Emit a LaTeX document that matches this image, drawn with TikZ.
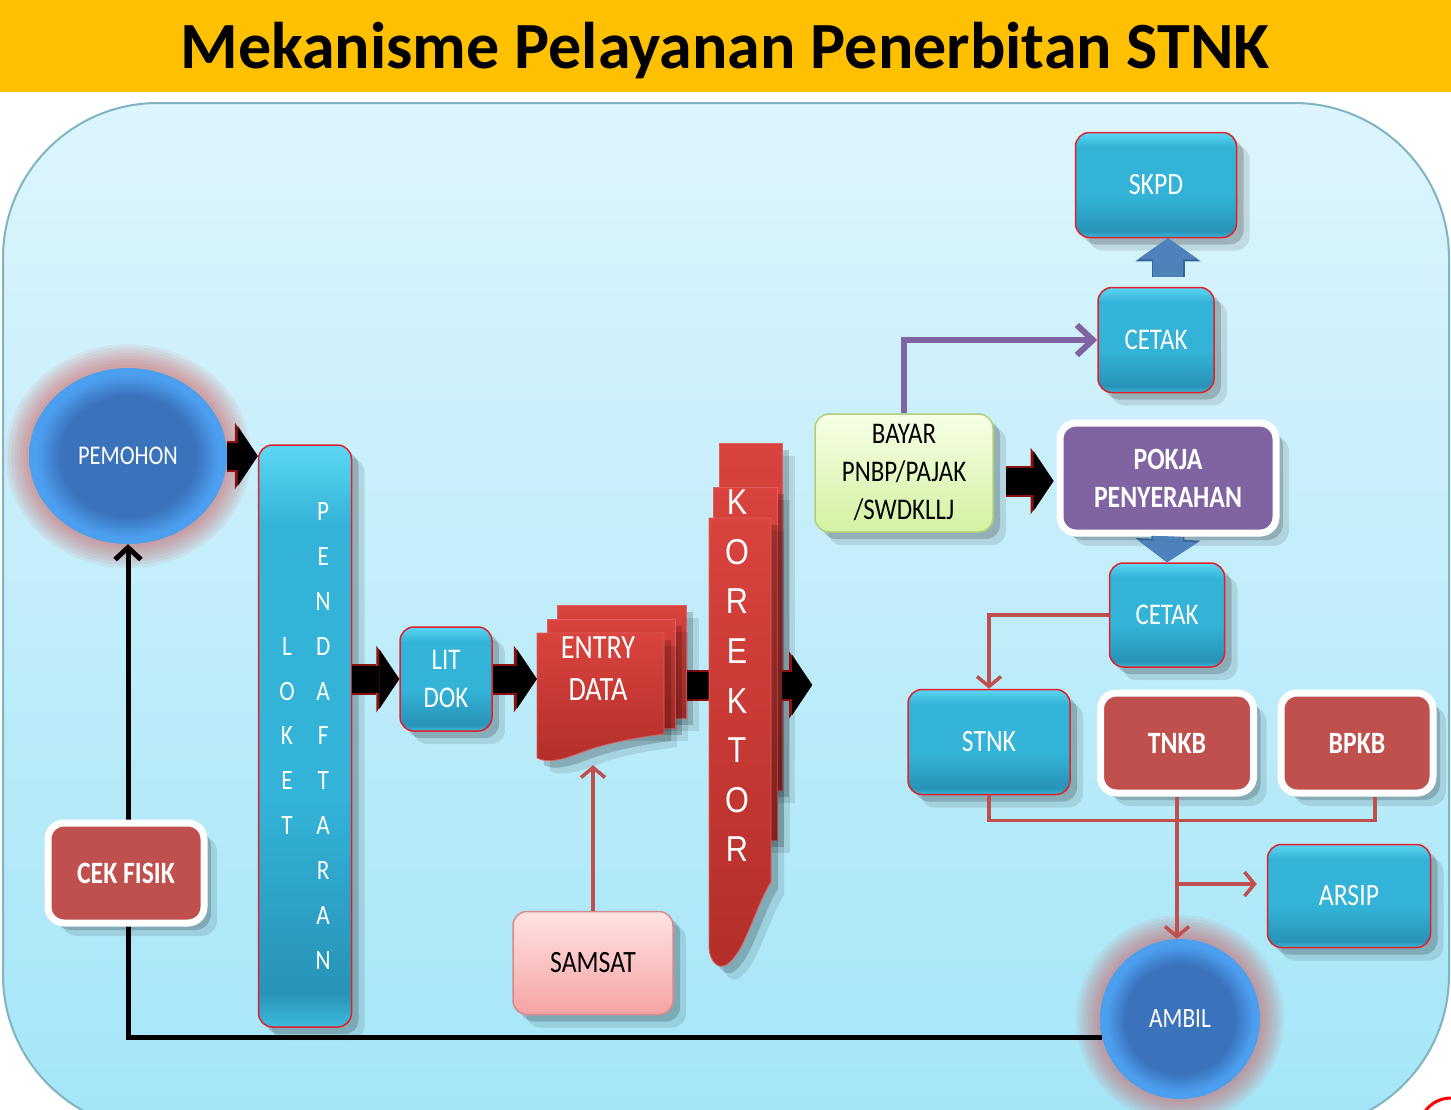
\documentclass[tikz,border=0pt]{standalone}
\usepackage{fontspec}
\setmainfont{Carlito}[FakeStretch=0.83]
\newfontfamily\titlefont{Carlito}
\newfontfamily\korfont{Liberation Sans}[FakeStretch=0.85]
\usetikzlibrary{arrows.meta,shadows,shapes.geometric,calc}
\newcommand{\fsz}[2]{\fontsize{#1}{#2}\selectfont}
\definecolor{ttlyellow}{HTML}{FFC000}
\definecolor{bgtop}{HTML}{DDF5FC}
\definecolor{bgbot}{HTML}{A4E5F8}
\definecolor{bgline}{HTML}{7FB4C2}
\definecolor{cyT}{HTML}{5CD6F3}
\definecolor{cyM}{HTML}{33B3D8}
\definecolor{cyB}{HTML}{2893B8}
\definecolor{cyL}{HTML}{3CB8DC}
\definecolor{boxred}{HTML}{C0504D}
\definecolor{edgered}{HTML}{E0202A}
\definecolor{ballA}{HTML}{3A72BC}
\definecolor{ballB}{HTML}{4C9EEE}
\definecolor{glow}{HTML}{D05050}
\definecolor{pokjac}{HTML}{8064A2}
\definecolor{blk}{HTML}{4F81BD}
\definecolor{blkdark}{HTML}{3A6396}
\definecolor{korT}{HTML}{DA433E}
\definecolor{korB}{HTML}{B32E2A}
\definecolor{korE}{HTML}{E06060}
\definecolor{greenT}{HTML}{F7FFE6}
\definecolor{greenB}{HTML}{D3F1A2}
\definecolor{greenE}{HTML}{AFCF7A}
\definecolor{pinkT}{HTML}{FFE3E3}
\definecolor{pinkB}{HTML}{F6A3A3}
\definecolor{pinkE}{HTML}{D88A8A}
\definecolor{purpline}{HTML}{8064A2}
\definecolor{arrred}{HTML}{8B1010}
\definecolor{lred}{HTML}{C0504D}
\pgfdeclarelayer{bg}
\pgfdeclarelayer{back}
\pgfsetlayers{bg,back,main}
\pgfdeclareradialshading{ballshade}{\pgfpoint{0bp}{0bp}}{color(0bp)=(ballA); color(17bp)=(ballA); color(23bp)=(ballB); color(25bp)=(ballB); color(50bp)=(ballB)}
\pgfdeclareverticalshading{cyanshade}{100bp}{color(0bp)=(cyL); color(25bp)=(cyL); color(28bp)=(cyB); color(45bp)=(cyM); color(68bp)=(cyM); color(75bp)=(cyT); color(100bp)=(cyT)}
\tikzset{
 softshadow/.style={drop shadow={shadow xshift=7pt,shadow yshift=-7pt,opacity=0.18,fill=black},
                    drop shadow={shadow xshift=13pt,shadow yshift=-13pt,opacity=0.10,fill=black}},
 cyanbox/.style={rectangle, rounded corners=14pt, shade, shading=cyanshade, draw=edgered, line width=1.5pt,
                 text=white, align=center, font=\fsz{31}{38}, inner sep=0pt, softshadow},
 whitebox/.style={rectangle, rounded corners=16pt, fill=boxred, draw=white, line width=7pt,
                  text=white, align=center, font=\bfseries\fsz{31}{38}, inner sep=0pt, softshadow},
 ball/.style={shade, shading=ballshade, text=white, font=\fsz{28}{34}, inner sep=0pt},
 fatarrow/.style={draw=black, line width=27pt, -{Triangle[length=20pt,width=60pt,line width=0pt]},
                  preaction={draw=arrred, line width=31pt, -{Triangle[length=23pt,width=67pt,line width=0pt]}}},
 blockarrow/.style={draw=blk, line width=30pt, -{Triangle[length=21pt,width=60pt,line width=0pt]},
                  preaction={draw=blkdark, line width=33pt, -{Triangle[length=23pt,width=65pt,line width=0pt]}}},
 redconn/.style={draw=lred, line width=3.5pt, -{Straight Barb[length=10pt,width=24pt]}},
 redplain/.style={draw=lred, line width=3.5pt},
 purpconn/.style={draw=purpline, line width=6pt, -{Straight Barb[length=16pt,width=30pt]}},
 blackconn/.style={draw=black, line width=5pt, -{Straight Barb[length=12pt,width=26pt]}},
 docA/.style={top color=korT, bottom color=korB, draw=korE, line width=0.8pt, softshadow},
}
\begin{document}
\begin{tikzpicture}[x=1pt,y=-1pt]
\useasboundingbox (0,0) rectangle (1451,1109);
\clip (0,0) rectangle (1451,1109);
\begin{pgfonlayer}{bg}
 \fill[white] (0,0) rectangle (1451,1109);
 \fill[ttlyellow] (0,0) rectangle (1451,92);
 \path[draw=bgline, line width=2pt, top color=bgtop, bottom color=bgbot, rounded corners=155pt] (3,103) rectangle (1449,1130);
\end{pgfonlayer}

\node[anchor=base, font=\titlefont\bfseries\fsz{66}{70}] (title) at (725,68) {Mekanisme Pelayanan Penerbitan STNK};

\coordinate (pemC) at (128,456);
\coordinate (ambC) at (1180,1019);

% ENTRY DATA multi-document
\path[docA] (557,605) rectangle (686,718);
\path[docA] (547,619) rectangle (675,728);
\path[docA] (537,633) -- (664,633) -- (664,734) .. controls (632,738) and (605,744) .. (585,751) .. controls (565,759) and (548,764) .. (537,758) -- cycle;
\node[inner sep=0pt, minimum width=149pt, minimum height=160pt] (entry) at (611.5,685) {};
\node[text=white, font=\fsz{34}{42}, align=center] (entrylbl) at (598,669) {ENTRY\\DATA};

% KOREKTOR multi-document
\path[docA] (719,443) rectangle (782,790);
\path[docA] (713,487) rectangle (777,840);
\path[docA] (709,518) -- (771,518) -- (771,882) .. controls (762,895) and (752,925) .. (742,945) .. controls (734,960) and (726,968) .. (719,966) .. controls (712,963) and (709,955) .. (709,945) -- cycle;
\node[inner sep=0pt, minimum width=73pt, minimum height=527pt] (korektor) at (745.5,706) {};
\node[text=white, font=\korfont\fsz{36}{49.6}, align=center] (korlbl) at (737,676) {K\\O\\R\\E\\K\\T\\O\\R};

\node[ball, ellipse, minimum width=198pt, minimum height=176pt, font=\fsz{27}{32}] (pemohon) at (pemC) {PEMOHON};
\node[ball, circle, minimum size=160pt] (ambil) at (ambC) {AMBIL};

\node[cyanbox, minimum width=93pt, minimum height=582pt, font=\fsz{28}{44.9}] (loket) at (305,736)
 {\begin{tabular}{@{}c@{\hspace{21pt}}c@{}}
  & P\\ & E\\ & N\\ L & D\\ O & A\\ K & F\\ E & T\\ T & A\\ & R\\ & A\\ & N
  \end{tabular}};
\node[cyanbox, minimum width=92pt, minimum height=104pt, font=\fsz{30}{38}] (litdok) at (446,679) {LIT\\DOK};

\node[draw=greenE, line width=1.5pt, rounded corners=14pt, top color=greenT, bottom color=greenB,
      minimum width=178pt, minimum height=118pt, align=center, font=\fsz{30}{38}, inner sep=0pt, softshadow]
      (bayar) at (904,473) {BAYAR\\PNBP/PAJAK\\/SWDKLLJ};
\node[whitebox, fill=pokjac, minimum width=216pt, minimum height=110pt] (pokja) at (1168,478) {POKJA\\PENYERAHAN};
\node[cyanbox, minimum width=161pt, minimum height=105pt] (skpd) at (1156,185) {SKPD};
\node[cyanbox, minimum width=116pt, minimum height=105pt, font=\fsz{30}{38}] (cetak1) at (1156,340) {CETAK};
\node[cyanbox, minimum width=115pt, minimum height=104pt, font=\fsz{30}{38}] (cetak2) at (1167,615) {CETAK};
\node[cyanbox, minimum width=162pt, minimum height=105pt] (stnk) at (989,742) {STNK};
\node[whitebox, minimum width=153pt, minimum height=100pt] (tnkb) at (1177,743) {TNKB};
\node[whitebox, minimum width=152pt, minimum height=100pt] (bpkb) at (1357,743) {BPKB};
\node[cyanbox, minimum width=163pt, minimum height=103pt] (arsip) at (1349,896) {ARSIP};
\node[draw=pinkE, line width=1.5pt, rounded corners=14pt, top color=pinkT, bottom color=pinkB,
      minimum width=160pt, minimum height=103pt, font=\fsz{31}{38}, inner sep=0pt, softshadow]
      (samsat) at (593,963) {SAMSAT};
\node[whitebox, minimum width=156pt, minimum height=100pt] (cekfisik) at (126,873) {CEK FISIK};

\begin{pgfonlayer}{back}
 \foreach \d in {3,6,...,24} {
   \fill[glow, opacity=0.08] (pemC) ellipse[x radius={99+\d}, y radius={88+\d}];
   \fill[glow, opacity=0.08] (ambC) circle[radius={80+\d}];
 }
 \draw[blackconn] (ambil.193) -- (ambil.193 -| pemohon.south) -- (pemohon.south);
 \draw[fatarrow] (entry.east) -- (entry.east -| korektor.center);
\end{pgfonlayer}

% fat black arrows
\draw[fatarrow] (pemohon.east) -- (pemohon.east -| loket.west);
\draw[fatarrow] (litdok.west -| loket.east) -- (litdok.west);
\draw[fatarrow] (litdok.east) -- (litdok.east -| entry.west);
\coordinate (korout) at ([xshift=30pt]korektor.east |- entry.east);
\draw[fatarrow] (korektor.east |- entry.east) -- (korout);
\draw[fatarrow, shorten >=3pt] ([xshift=12pt,yshift=-8pt]bayar.east) -- ([yshift=-8pt]bayar.east -| pokja.west);

% blue block arrows
\draw[blockarrow] ([xshift=12pt,yshift=10pt]cetak1.north) -- ([xshift=12pt]skpd.south);
\draw[blockarrow] (pokja.south) -- (cetak2.north);

% thin connectors
\draw[purpconn] (bayar.north) |- (cetak1.west);
\draw[redconn] (cetak2.west) -| (stnk.north);
\draw[redplain] (stnk.south) -- ++(0,25) -| ([xshift=18pt]bpkb.south);
\draw[redconn] (tnkb.south) -- (tnkb.south |- ambil.north);
\coordinate (br) at ([yshift=12pt]tnkb.south |- arsip.west);
\draw[redconn, shorten >=10pt] (br) -- (br -| arsip.west);
\draw[redconn] (samsat.north) -- (samsat.north |- entry.south);

\draw[red, line width=3pt] (1451,1130) circle[radius=32];
\end{tikzpicture}
\end{document}
